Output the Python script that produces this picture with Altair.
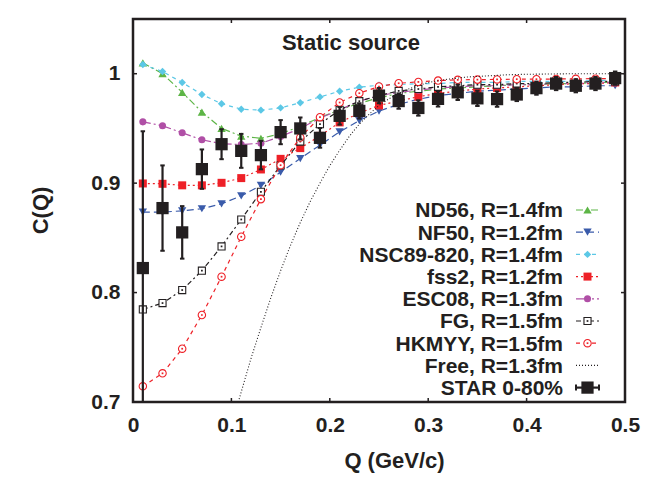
import altair as alt
import pandas as pd

# ---------------- data ----------------
Q = [0.01, 0.03, 0.05, 0.07, 0.09, 0.11, 0.13, 0.15, 0.17, 0.19, 0.21, 0.23, 0.25,
     0.27, 0.29, 0.31, 0.33, 0.35, 0.37, 0.39, 0.41, 0.43, 0.45, 0.47, 0.49]

nd56 = [1.010, 1.000, 0.983, 0.965, 0.950, 0.943, 0.941, 0.945, 0.952, 0.960, 0.967, 0.973, 0.978,
        0.982, 0.984, 0.986, 0.987, 0.988, 0.989, 0.990, 0.990, 0.991, 0.991, 0.992, 0.992]
nf50 = [0.8735, 0.8735, 0.8747, 0.8766, 0.8811, 0.8884, 0.8979, 0.910, 0.9225, 0.9347, 0.9469, 0.9572, 0.9658,
        0.972, 0.9767, 0.980, 0.982, 0.984, 0.985, 0.986, 0.987, 0.988, 0.988, 0.989, 0.989]
nsc89 = [1.0084, 1.002, 0.992, 0.981, 0.9725, 0.9676, 0.9667, 0.9688, 0.9734, 0.9788, 0.984, 0.9877, 0.9895,
         0.990, 0.991, 0.991, 0.992, 0.992, 0.992, 0.993, 0.993, 0.993, 0.993, 0.994, 0.994]
fss2 = [0.8997, 0.8994, 0.898, 0.898, 0.9003, 0.9046, 0.9125, 0.9222, 0.932, 0.9432, 0.9555, 0.964, 0.971,
        0.975, 0.979, 0.982, 0.984, 0.986, 0.987, 0.988, 0.989, 0.990, 0.991, 0.991, 0.992]
esc08 = [0.956, 0.9524, 0.946, 0.9396, 0.936, 0.9353, 0.9365, 0.9426, 0.950, 0.9594, 0.967, 0.975, 0.980,
         0.983, 0.985, 0.987, 0.988, 0.989, 0.989, 0.990, 0.990, 0.991, 0.991, 0.992, 0.992]
fg = [0.7846, 0.7904, 0.8023, 0.820, 0.8422, 0.8668, 0.8921, 0.9161, 0.938, 0.9539, 0.967, 0.9749, 0.980,
      0.9843, 0.986, 0.988, 0.989, 0.990, 0.990, 0.991, 0.991, 0.992, 0.992, 0.993, 0.993]
hkmyy = [0.7143, 0.7262, 0.7487, 0.7795, 0.8145, 0.851, 0.8854, 0.9164, 0.9417, 0.9603, 0.9737, 0.9822, 0.9883,
         0.9913, 0.9925, 0.9937, 0.9944, 0.9946, 0.9948, 0.995, 0.995, 0.9952, 0.9953, 0.9955, 0.9956]

free_q = [0.107, 0.12, 0.13, 0.14, 0.15, 0.16, 0.17, 0.18, 0.19, 0.20, 0.21, 0.22, 0.23, 0.24, 0.25,
          0.26, 0.27, 0.28, 0.29, 0.30, 0.32, 0.34, 0.36, 0.38, 0.40, 0.45, 0.50]
free_c = [0.700, 0.740, 0.768, 0.795, 0.820, 0.843, 0.864, 0.883, 0.900, 0.916, 0.930, 0.943, 0.954, 0.963, 0.971,
          0.977, 0.982, 0.986, 0.989, 0.992, 0.995, 0.997, 0.998, 0.999, 0.9995, 1.000, 1.000]

star_c = [0.8224, 0.8772, 0.855, 0.9128, 0.9356, 0.9295, 0.9256, 0.9466, 0.950, 0.9414, 0.9615, 0.966, 0.980,
          0.9750, 0.9687, 0.977, 0.983, 0.9775, 0.9768, 0.981, 0.9868, 0.991, 0.989, 0.991, 0.996]
star_err = [0.125, 0.039, 0.024, 0.018, 0.0137, 0.0155, 0.013, 0.011, 0.010, 0.009, 0.008, 0.007, 0.007,
            0.007, 0.007, 0.007, 0.007, 0.007, 0.007, 0.006, 0.006, 0.006, 0.006, 0.006, 0.006]

labels = ["ND56, R=1.4fm", "NF50, R=1.2fm", "NSC89-820, R=1.4fm", "fss2, R=1.2fm",
          "ESC08, R=1.3fm", "FG, R=1.5fm", "HKMYY, R=1.5fm", "Free, R=1.3fm", "STAR 0-80%"]
x_ticks = [0, 0.1, 0.2, 0.3, 0.4, 0.5]
y_ticks = [0.7, 0.8, 0.9, 1.0]

# ---------------- style ----------------
K = "#231F20"
FONT = "Liberation Sans"
W, H = 492, 383
series_vals = [nd56, nf50, nsc89, fss2, esc08, fg, hkmyy]
colors = ["#5DB546", "#3A5BAA", "#5CC8E6", "#EE2027", "#B04FA6", K, "#EE2027"]
dashes = [[7, 3, 2, 3], [7, 4], [4, 4], [2, 3], [8, 3, 2, 3, 2, 3], [5, 3, 2, 3], [4, 4]]
shapes = ["triangle-up", "triangle-down", "diamond", "square", "circle", "square", "circle"]
sizes = [70, 70, 55, 64, 50, 50, 55]
filled = [True, True, True, True, True, False, False]

xs = alt.Scale(domain=[0, 0.5], nice=False, zero=False)
ys = alt.Scale(domain=[0.7, 1.05], nice=False, zero=False)
x_axis = alt.Axis(values=x_ticks, format=".1~f", title="Q (GeV/c)", ticks=False, domain=False, grid=False,
                  labelFont=FONT, labelFontSize=21, labelFontWeight="bold", labelColor=K, labelPadding=12,
                  labelFlush=False, labelOverlap=False,
                  titleFont=FONT, titleFontSize=22, titleFontWeight="bold", titleColor=K,
                  titleX=261, titleY=65, titleBaseline="alphabetic", titleAlign="center")
y_axis = alt.Axis(values=y_ticks, format=".1~f", title="C(Q)", ticks=False, domain=False, grid=False,
                  labelFont=FONT, labelFontSize=21, labelFontWeight="bold", labelColor=K, labelPadding=13,
                  labelFlush=False, labelOverlap=False,
                  titleFont=FONT, titleFontSize=22, titleFontWeight="bold", titleColor=K,
                  titleX=-86, titleY=191, titleBaseline="alphabetic", titleAlign="center")
X = alt.X("Q:Q", scale=xs, axis=x_axis)
Y = alt.Y("C:Q", scale=ys, axis=y_axis)

layers = []

# model curves
for vals, col, dsh, shp, sz, fil in zip(series_vals, colors, dashes, shapes, sizes, filled):
    df = pd.DataFrame({"Q": Q, "C": vals})
    base = alt.Chart(df)
    layers.append(base.mark_line(color=col, strokeWidth=1.2, strokeDash=dsh, clip=True).encode(x=X, y=Y))
    if fil:
        layers.append(base.mark_point(shape=shp, size=sz, filled=True, color=col, opacity=1, clip=True)
                      .encode(x=X, y=Y))
    else:
        layers.append(base.mark_point(shape=shp, size=sz, filled=False, fill="white", fillOpacity=1,
                                      color=col, strokeWidth=1.1, opacity=1, clip=True).encode(x=X, y=Y))
        layers.append(base.mark_point(shape="square", size=3, filled=True, color=col, opacity=1, clip=True)
                      .encode(x=X, y=Y))

# free curve
df_free = pd.DataFrame({"Q": free_q, "C": free_c})
layers.append(alt.Chart(df_free).mark_line(color=K, strokeWidth=1.1, strokeDash=[1, 2], clip=True)
              .encode(x=X, y=Y))

# STAR data
df_star = pd.DataFrame({"Q": Q, "C": star_c,
                        "lo": [c - e for c, e in zip(star_c, star_err)],
                        "hi": [c + e for c, e in zip(star_c, star_err)]})
sb = alt.Chart(df_star)
layers.append(sb.mark_rule(color=K, strokeWidth=2.2, clip=True).encode(x=X, y=alt.Y("lo:Q", scale=ys, axis=y_axis), y2="hi:Q"))
layers.append(sb.mark_point(shape="M-1,0H1", size=20, filled=False, color=K, strokeWidth=2, opacity=1, clip=True)
              .encode(x=X, y=alt.Y("lo:Q", scale=ys, axis=y_axis)))
layers.append(sb.mark_point(shape="M-1,0H1", size=20, filled=False, color=K, strokeWidth=2, opacity=1, clip=True)
              .encode(x=X, y=alt.Y("hi:Q", scale=ys, axis=y_axis)))
layers.append(sb.mark_point(shape="square", size=150, filled=True, color=K, opacity=1, clip=True).encode(x=X, y=Y))

# inward ticks
dfx = pd.DataFrame({"Q": x_ticks})
dfy = pd.DataFrame({"C": y_ticks})
layers.append(alt.Chart(dfx).mark_rule(color=K, strokeWidth=1.5).encode(x=X, y=alt.value(H), y2=alt.value(H - 4)))
layers.append(alt.Chart(dfx).mark_rule(color=K, strokeWidth=1.5).encode(x=X, y=alt.value(0), y2=alt.value(4)))
layers.append(alt.Chart(dfy).mark_rule(color=K, strokeWidth=1.5).encode(y=Y, x=alt.value(0), x2=alt.value(4)))
layers.append(alt.Chart(dfy).mark_rule(color=K, strokeWidth=1.5).encode(y=Y, x=alt.value(W), x2=alt.value(W - 4)))

# title inside plot
one = pd.DataFrame({"t": ["Static source"]})
layers.append(alt.Chart(one).mark_text(font=FONT, fontSize=22, fontWeight="bold", color=K, align="center",
                                       baseline="alphabetic")
              .encode(text="t:N", x=alt.value(218), y=alt.value(30.5)))

# legend (manual, labels left of samples)
LX_TEXT, LX0, LX1, LXM = 430, 443, 466, 454.5
for i, lab in enumerate(labels):
    yc = 191 + 22.2 * i
    dft = pd.DataFrame({"t": [lab]})
    layers.append(alt.Chart(dft).mark_text(font=FONT, fontSize=21, fontWeight="bold", color=K, align="right",
                                           baseline="alphabetic")
                  .encode(text="t:N", x=alt.value(LX_TEXT), y=alt.value(yc + 7.3)))
    if i < 7:
        layers.append(alt.Chart(dft).mark_rule(color=colors[i], strokeWidth=1.2, strokeDash=dashes[i])
                      .encode(x=alt.value(LX0), x2=alt.value(LX1), y=alt.value(yc)))
        if filled[i]:
            layers.append(alt.Chart(dft).mark_point(shape=shapes[i], size=sizes[i], filled=True,
                                                    color=colors[i], opacity=1)
                          .encode(x=alt.value(LXM), y=alt.value(yc)))
        else:
            layers.append(alt.Chart(dft).mark_point(shape=shapes[i], size=sizes[i], filled=False, fill="white",
                                                    fillOpacity=1, color=colors[i], strokeWidth=1.1, opacity=1)
                          .encode(x=alt.value(LXM), y=alt.value(yc)))
            layers.append(alt.Chart(dft).mark_point(shape="square", size=3, filled=True, color=colors[i], opacity=1)
                          .encode(x=alt.value(LXM), y=alt.value(yc)))
    elif i == 7:
        layers.append(alt.Chart(dft).mark_rule(color=K, strokeWidth=1.1, strokeDash=[1, 2])
                      .encode(x=alt.value(LX0), x2=alt.value(LX1), y=alt.value(yc)))
    else:
        layers.append(alt.Chart(dft).mark_rule(color=K, strokeWidth=2.2)
                      .encode(x=alt.value(LX0), x2=alt.value(LX1), y=alt.value(yc)))
        for xe in (LX0, LX1):
            layers.append(alt.Chart(dft).mark_rule(color=K, strokeWidth=2)
                          .encode(x=alt.value(xe), y=alt.value(yc - 3), y2=alt.value(yc + 3)))
        layers.append(alt.Chart(dft).mark_point(shape="square", size=150, filled=True, color=K, opacity=1)
                      .encode(x=alt.value(LXM), y=alt.value(yc)))

chart = alt.layer(*layers).properties(
    width=W, height=H,
    autosize="none",
    padding={"left": 125, "top": 11, "right": 30, "bottom": 74},
    background="white",
).configure_view(stroke=K, strokeWidth=2.5)

chart.save("out.html", embed_options={"renderer": "svg", "actions": False})
